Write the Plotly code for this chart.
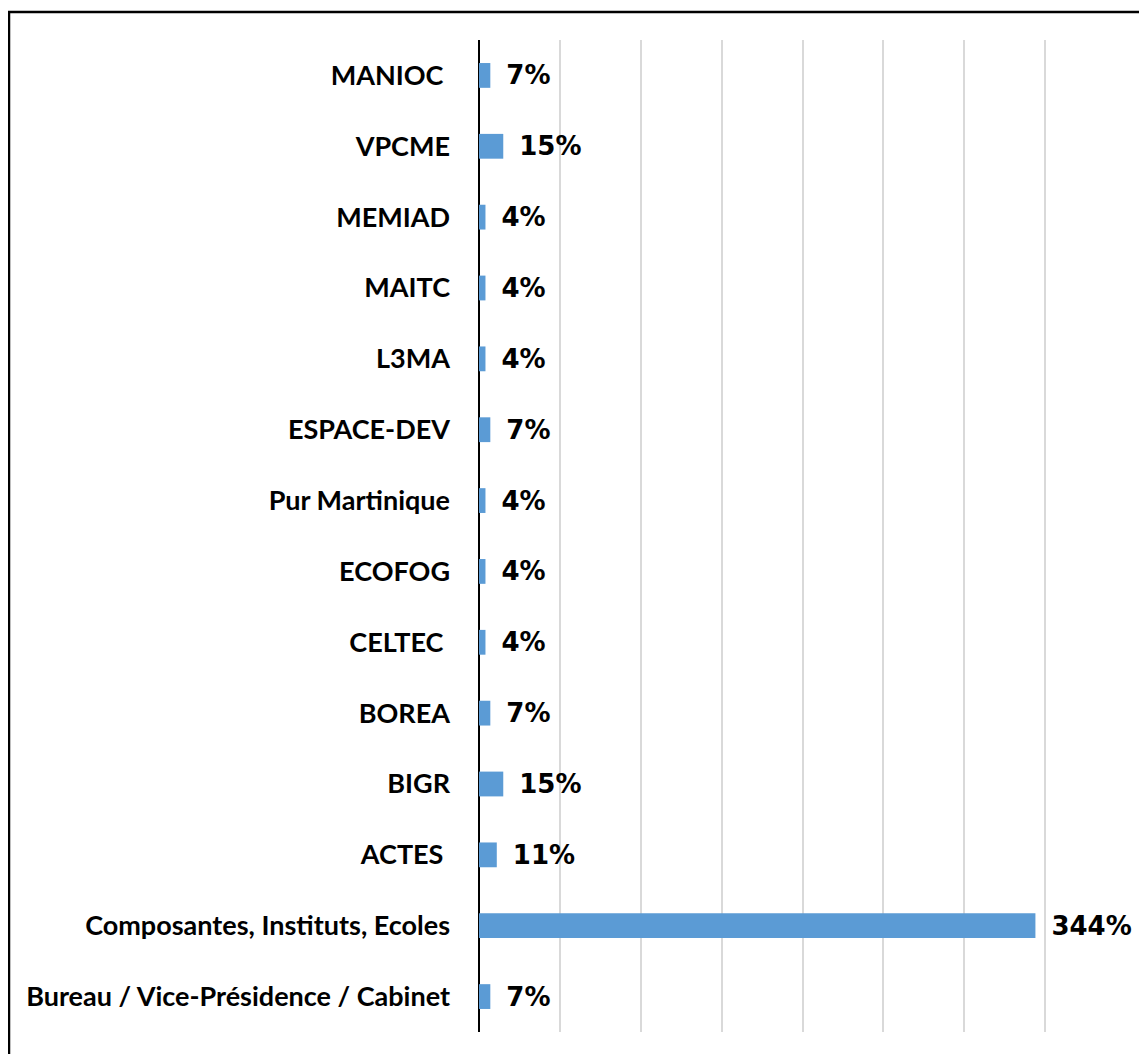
import plotly.graph_objects as go

categories = [
    "Bureau / Vice-Présidence / Cabinet",
    "Composantes, Instituts, Ecoles",
    "ACTES ",
    "BIGR",
    "BOREA",
    "CELTEC ",
    "ECOFOG",
    "Pur Martinique",
    "ESPACE-DEV",
    "L3MA",
    "MAITC",
    "MEMIAD",
    "VPCME",
    "MANIOC ",
]
values = [7, 344, 11, 15, 7, 4, 4, 4, 7, 4, 4, 4, 15, 7]
value_labels = [f"{v}%" for v in values]
x_ticks = [0, 50, 100, 150, 200, 250, 300, 350, 400]

W, H = 1139, 1046
ML, MR, MT, MB = 471, 21, 32, 22
pw = W - ML - MR
ph = H - MT - MB

fig = go.Figure()
fig.add_trace(go.Bar(
    y=categories,
    x=values,
    orientation="h",
    marker=dict(color="#5B9BD5", line=dict(width=0)),
    text=value_labels,
    textposition="outside",
    texttemplate="\u2002%{text}",
    constraintext="none",
    textfont=dict(family="DejaVu Sans, Arial, sans-serif", size=26, color="#000000", weight="bold"),
    cliponaxis=False,
    width=0.35,
))

fig.update_layout(
    width=W,
    height=H,
    margin=dict(l=ML, r=MR, t=MT, b=MB, pad=0, autoexpand=False),
    paper_bgcolor="white",
    plot_bgcolor="white",
    showlegend=False,
    xaxis=dict(
        range=[0, 400],
        tickvals=x_ticks,
        showticklabels=False,
        showgrid=True,
        gridcolor="#D9D9D9",
        gridwidth=2,
        zeroline=True,
        zerolinecolor="#000000",
        zerolinewidth=1.5,
        fixedrange=True,
    ),
    yaxis=dict(
        categoryorder="array",
        categoryarray=categories,
        range=[-0.5, len(categories) - 0.5],
        tickfont=dict(family="Lato, Open Sans, sans-serif", size=27, color="#000000", weight="bold"),
        ticks="",
        ticklabelstandoff=28,
        showgrid=False,
        zeroline=False,
        automargin=False,
    ),
    font=dict(family="Lato, sans-serif"),
    shapes=[
        dict(
            type="rect",
            xref="paper", yref="paper",
            x0=(1 - ML) / pw, x1=(W + 10 - ML) / pw,
            y0=(H - MB - (H + 10)) / ph, y1=(H - MB - 4) / ph,
            line=dict(color="#000000", width=2.5),
            fillcolor="rgba(0,0,0,0)",
            layer="above",
        )
    ],
)

fig.write_html("out.html")
